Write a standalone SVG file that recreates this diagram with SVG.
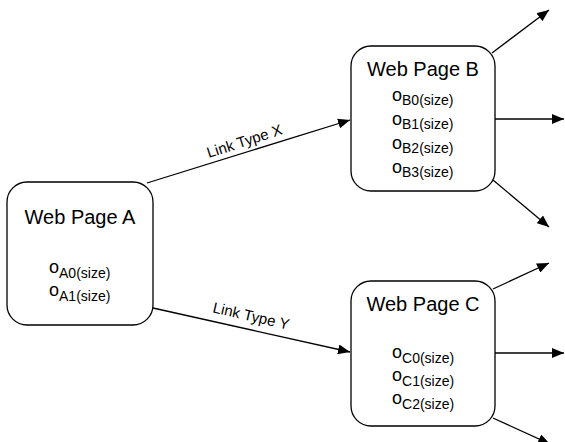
<svg xmlns="http://www.w3.org/2000/svg" width="565" height="442" viewBox="0 0 565 442">
  <style>
    .box { fill: #ffffff; stroke: #000000; stroke-width: 1.3; }
    .title { font-family: "Liberation Sans", Arial, sans-serif; font-size: 20px; fill: #000000; text-anchor: middle; }
    .item { font-family: "Liberation Sans", Arial, sans-serif; fill: #000000; }
    .o { font-size: 18px; }
    .sub { font-size: 14px; }
    .label { font-family: "Liberation Sans", Arial, sans-serif; font-size: 15px; fill: #000000; text-anchor: middle; }
    .edge { fill: none; stroke: #000000; stroke-width: 1.3; marker-end: url(#arrow); }
  </style>
  <defs>
    <marker id="arrow" markerUnits="userSpaceOnUse" markerWidth="12" markerHeight="10" refX="12" refY="5" orient="auto">
      <path d="M0,0 L12,5 L0,10 z" fill="#000000"/>
    </marker>
  </defs>
  <rect width="565" height="442" fill="#ffffff"/>

  <g id="connectors">
    <line class="edge" x1="147" y1="183" x2="350" y2="120"/>
    <line class="edge" x1="153" y1="308" x2="350" y2="352"/>
    <line class="edge" x1="492" y1="53" x2="549" y2="10"/>
    <line class="edge" x1="495" y1="119" x2="564" y2="119"/>
    <line class="edge" x1="493" y1="180" x2="549" y2="227"/>
    <line class="edge" x1="493" y1="289" x2="549" y2="263"/>
    <line class="edge" x1="495" y1="353" x2="564" y2="353"/>
    <line class="edge" x1="493" y1="418" x2="550" y2="444"/>
    <text class="label" transform="translate(246,146) rotate(-18)">Link Type X</text>
    <text class="label" transform="translate(250,321) rotate(13)">Link Type Y</text>
  </g>

  <g id="page-a">
    <rect class="box" x="7" y="182" width="146" height="143" rx="20" ry="20"/>
    <text class="title" x="80" y="224">Web Page A</text>
    <text class="item" x="49" y="273"><tspan class="o">o</tspan><tspan class="sub" dy="5">A0(size)</tspan></text>
    <text class="item" x="49" y="296"><tspan class="o">o</tspan><tspan class="sub" dy="5">A1(size)</tspan></text>
  </g>

  <g id="page-b">
    <rect class="box" x="351" y="46" width="144" height="145" rx="20" ry="20"/>
    <text class="title" x="423" y="76">Web Page B</text>
    <text class="item" x="392" y="101"><tspan class="o">o</tspan><tspan class="sub" dy="4">B0(size)</tspan></text>
    <text class="item" x="392" y="125"><tspan class="o">o</tspan><tspan class="sub" dy="4">B1(size)</tspan></text>
    <text class="item" x="392" y="149"><tspan class="o">o</tspan><tspan class="sub" dy="4">B2(size)</tspan></text>
    <text class="item" x="392" y="173"><tspan class="o">o</tspan><tspan class="sub" dy="4">B3(size)</tspan></text>
  </g>

  <g id="page-c">
    <rect class="box" x="351" y="281" width="144" height="145" rx="20" ry="20"/>
    <text class="title" x="423" y="311">Web Page C</text>
    <text class="item" x="392" y="358"><tspan class="o">o</tspan><tspan class="sub" dy="5">C0(size)</tspan></text>
    <text class="item" x="392" y="381"><tspan class="o">o</tspan><tspan class="sub" dy="5">C1(size)</tspan></text>
    <text class="item" x="392" y="404"><tspan class="o">o</tspan><tspan class="sub" dy="5">C2(size)</tspan></text>
  </g>
</svg>
